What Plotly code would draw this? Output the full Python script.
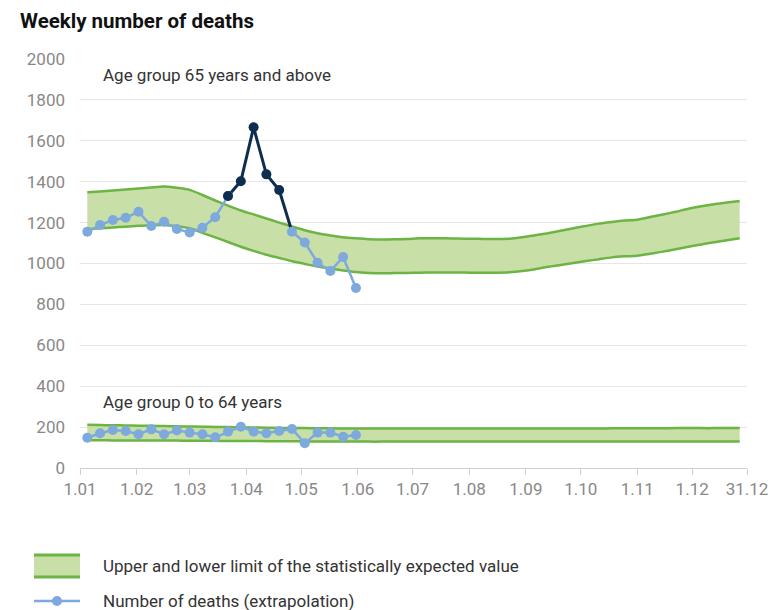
import pandas as pd
import plotly.graph_objects as go

# ---------------- data ----------------
week_start = "2020-01-05"
n_weeks = 52

upper_65 = [1348, 1352, 1357, 1362, 1367, 1372, 1376, 1370, 1360, 1335, 1308, 1283, 1259,
            1240, 1220, 1200, 1181, 1163, 1148, 1137, 1128, 1123, 1119, 1117, 1118, 1120,
            1123, 1124, 1123, 1122, 1121, 1120, 1120, 1121, 1128, 1138, 1148, 1160, 1172,
            1184, 1195, 1203, 1210, 1214, 1227, 1240, 1253, 1268, 1280, 1290, 1298, 1306]
lower_65 = [1167, 1172, 1176, 1180, 1184, 1187, 1188, 1182, 1172, 1150, 1128, 1105, 1082,
            1062, 1043, 1027, 1011, 998, 985, 975, 966, 958, 954, 952, 953, 954,
            955, 956, 956, 956, 955, 955, 955, 957, 963, 972, 984, 993, 1002,
            1012, 1021, 1030, 1035, 1038, 1048, 1058, 1070, 1082, 1093, 1104, 1114, 1123]
deaths_65 = [1155, 1188, 1213, 1224, 1253, 1183, 1204, 1169, 1152, 1175, 1226, 1330,
             1402, 1666, 1436, 1359, 1155, 1103, 1004, 963, 1032, 880]
excess_65 = [False] * 11 + [True] * 5 + [False] * 6

upper_064 = [211, 210, 209, 208, 207, 206, 205, 204, 203, 202, 201, 200, 199,
             198, 197, 196, 195, 195, 194, 194, 193, 193, 193, 193, 193, 193,
             193, 193, 193, 193, 193, 193, 193, 193, 193, 193, 193, 193, 193,
             193, 193, 194, 194, 194, 194, 194, 195, 195, 195, 195, 196, 196]
lower_064 = [136, 136, 135, 135, 135, 134, 134, 134, 133, 133, 133, 132, 132,
             132, 131, 131, 131, 130, 130, 130, 130, 130, 129, 129, 129, 129,
             129, 129, 129, 129, 129, 129, 129, 129, 129, 129, 129, 129, 129,
             129, 129, 129, 129, 129, 129, 129, 129, 129, 129, 129, 129, 129]
deaths_064 = [148, 170, 186, 181, 165, 189, 165, 183, 173, 165, 150, 178, 202,
              178, 170, 181, 191, 121, 173, 173, 153, 161]

tick_dates = ["2020-01-01", "2020-02-01", "2020-03-01", "2020-04-01", "2020-05-01",
              "2020-06-01", "2020-07-01", "2020-08-01", "2020-09-01", "2020-10-01",
              "2020-11-01", "2020-12-01", "2020-12-31"]
tick_labels = ["1.01", "1.02", "1.03", "1.04", "1.05", "1.06", "1.07", "1.08", "1.09",
               "1.10", "1.11", "1.12", "31.12"]

# ---------------- styles ----------------
GREEN = "#6cb444"
FILL = "#c9dfa8"
LIGHT = "#7ea9dd"
DARK = "#0e2e4f"
FONT = "Roboto"
TXT = 17
MS = 10

weeks = pd.date_range(week_start, periods=n_weeks, freq="7D")
dw = weeks[:len(deaths_65)]

fig = go.Figure()


def add_band(lo, up):
    ln = dict(color=GREEN, width=2.5, shape="spline", smoothing=0.6)
    fig.add_trace(go.Scatter(x=weeks, y=lo, mode="lines", line=ln,
                             hoverinfo="skip", showlegend=False))
    fig.add_trace(go.Scatter(x=weeks, y=up, mode="lines", line=ln,
                             fill="tonexty", fillcolor=FILL, hoverinfo="skip", showlegend=False))


add_band(lower_65, upper_65)
add_band(lower_064, upper_064)

# 0-64 deaths
fig.add_trace(go.Scatter(x=dw, y=deaths_064, mode="lines+markers",
                         line=dict(color=LIGHT, width=2.5),
                         marker=dict(color=LIGHT, size=MS), showlegend=False))

# 65+ deaths: dark segment for excess weeks
idx = [i for i, e in enumerate(excess_65) if e]
a, b = idx[0], idx[-1]
fig.add_trace(go.Scatter(x=dw[a:b + 2], y=deaths_65[a:b + 2], mode="lines",
                         line=dict(color=DARK, width=3), showlegend=False))
light_y = [None if (e and i != a) else v for i, (v, e) in enumerate(zip(deaths_65, excess_65))]
fig.add_trace(go.Scatter(x=dw, y=light_y, mode="lines+markers", connectgaps=False,
                         line=dict(color=LIGHT, width=2.5),
                         marker=dict(color=LIGHT, size=MS), showlegend=False))
fig.add_trace(go.Scatter(x=[dw[i] for i in idx], y=[deaths_65[i] for i in idx], mode="markers",
                         marker=dict(color=DARK, size=MS), showlegend=False))

# ---------------- layout ----------------
OFF = 8  # page body margin
W, H = 784 - OFF, 610 - OFF
L, T = 80 - OFF, 59 - OFF
R = W - (747 - OFF)
B = H - (468 - OFF)
pw, ph = W - L - R, H - T - B


def px(x):  # reference pixel -> paper
    return (x - OFF - L) / pw


def py(y):
    return (H - B - (y - OFF)) / ph


fig.update_layout(
    width=W, height=H,
    margin=dict(l=L, r=R, t=T, b=B),
    plot_bgcolor="white", paper_bgcolor="white",
    font=dict(family=FONT, size=TXT, color="#333333"),
    title=dict(text="<b>Weekly number of deaths</b>", x=(20 - OFF) / W, xref="container",
               xanchor="left", y=1 - (21 - OFF) / H, yref="container", yanchor="middle",
               font=dict(family=FONT, size=20.5, color="#111111")),
    xaxis=dict(type="date", range=["2020-01-01", "2020-12-31"], tickvals=tick_dates,
               ticktext=tick_labels, showgrid=False, showline=True, linecolor="#d0d0d0",
               linewidth=1, ticks="outside", ticklen=6, tickcolor="#d0d0d0",
               tickfont=dict(family=FONT, size=TXT, color="#888888"), zeroline=False),
    yaxis=dict(range=[0, 2000], tickvals=list(range(0, 2001, 200)), showgrid=True,
               gridcolor="#e6e6e6", gridwidth=1, zeroline=False, showline=False,
               ticks="", ticklabelstandoff=14,
               tickfont=dict(family=FONT, size=TXT, color="#888888")),
    showlegend=False,
)

fig.add_annotation(text="Age group 65 years and above", xref="paper", yref="paper",
                   x=px(101), y=py(75), xanchor="left", yanchor="middle", showarrow=False,
                   font=dict(family=FONT, size=TXT, color="#333333"))
fig.add_annotation(text="Age group 0 to 64 years", xref="paper", yref="paper",
                   x=px(101), y=py(402), xanchor="left", yanchor="middle", showarrow=False,
                   font=dict(family=FONT, size=TXT, color="#333333"))

# custom legend
fig.add_shape(type="rect", xref="paper", yref="paper", x0=px(34), x1=px(80), y0=py(577),
              y1=py(555), fillcolor=FILL, line=dict(width=0), layer="above")
for yy in (555, 577):
    fig.add_shape(type="line", xref="paper", yref="paper", x0=px(34), x1=px(80), y0=py(yy),
                  y1=py(yy), line=dict(color=GREEN, width=3), layer="above")
fig.add_shape(type="line", xref="paper", yref="paper", x0=px(34), x1=px(80), y0=py(601),
              y1=py(601), line=dict(color=LIGHT, width=2.5), layer="above")
fig.add_shape(type="circle", xref="paper", yref="paper", x0=px(52), x1=px(62),
              y0=py(606), y1=py(596), fillcolor=LIGHT, line=dict(width=0), layer="above")
fig.add_annotation(text="Upper and lower limit of the statistically expected value", xref="paper",
                   yref="paper", x=px(101), y=py(566), xanchor="left", yanchor="middle",
                   showarrow=False, font=dict(family=FONT, size=TXT, color="#333333"))
fig.add_annotation(text="Number of deaths (extrapolation)", xref="paper",
                   yref="paper", x=px(101), y=py(601), xanchor="left", yanchor="middle",
                   showarrow=False, font=dict(family=FONT, size=TXT, color="#333333"))

fig.write_html("out.html")
